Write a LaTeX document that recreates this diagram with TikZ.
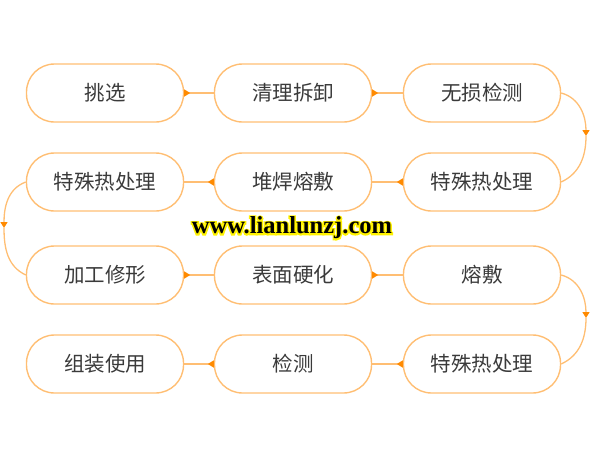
\documentclass[tikz,border=0pt]{standalone}
\usepackage{fontspec}
\setmainfont{Noto Sans CJK SC}
\newfontfamily\wmfont{Liberation Serif}
\newfontfamily\wmglow{Liberation Serif}[FakeBold=12]
\usetikzlibrary{arrows.meta}
\definecolor{boxline}{HTML}{FFBE73}
\definecolor{tipcol}{HTML}{FF8A00}
\definecolor{txt}{HTML}{3A3A3A}
\begin{document}
\begin{tikzpicture}[x=1pt,y=-1pt]
        \tikzstyle{every node}=[draw=boxline,line width=1.4pt,rounded corners=28pt,minimum width=157pt,minimum height=58pt,text=txt,font=\fontsize{20.5}{24}\selectfont,inner sep=0pt];
        \tikzstyle{link}=[boxline,line width=1.3pt];
        \tikzstyle{tip}=[-{Triangle[length=6pt,width=7pt,color=tipcol]}];
        \useasboundingbox (0,0) rectangle (600,450);
        % row 1
        \node (pick) at (105,93) {挑选};
        \node (clean) at (293,93) {清理拆卸};
        \node (ndt) at (482,93) {无损检测};
        % row 2
        \node (heatb) at (105,182) {特殊热处理};
        \node (weld) at (293,182) {堆焊熔敷};
        \node (heata) at (482,182) {特殊热处理};
        % row 3
        \node (shape) at (105,275) {加工修形};
        \node (hard) at (293,275) {表面硬化};
        \node (clad) at (482,275) {熔敷};
        % row 4
        \node (use) at (105,364) {组装使用};
        \node (check) at (293,364) {检测};
        \node (heatc) at (482,364) {特殊热处理};
        \coordinate (ra) at (586,136);
        \coordinate (la) at (4,228);
        \coordinate (rb) at (586,318);
        \draw[link,{Triangle[reversed,length=6pt,width=7pt,color=tipcol]}-] (pick)--(clean);
        \draw[link,{Triangle[reversed,length=6pt,width=7pt,color=tipcol]}-] (clean)--(ndt);
        \draw[link,{Triangle[reversed,length=6pt,width=7pt,color=tipcol]}-] (heata)--(weld);
        \draw[link,{Triangle[reversed,length=6pt,width=7pt,color=tipcol]}-] (weld)--(heatb);
        \draw[link,{Triangle[reversed,length=6pt,width=7pt,color=tipcol]}-] (shape)--(hard);
        \draw[link,{Triangle[reversed,length=6pt,width=7pt,color=tipcol]}-] (hard)--(clad);
        \draw[link,{Triangle[reversed,length=6pt,width=7pt,color=tipcol]}-] (heatc)--(check);
        \draw[link,{Triangle[reversed,length=6pt,width=7pt,color=tipcol]}-] (check)--(use);
        % bends
        \draw[link,tip] (ndt.east) to[out=-15,in=90] (ra);
        \draw[link] (ra) to[out=-90,in=25] (heata.east);
        \draw[link,tip] (heatb.west) to[out=200,in=90] (la);
        \draw[link] (la) to[out=-90,in=155] (shape.west);
        \draw[link,tip] (clad.east) to[out=-15,in=90] (rb);
        \draw[link] (rb) to[out=-90,in=25] (heatc.east);
        % watermark
        \node[draw=none,minimum width=0pt,minimum height=0pt,text=yellow,font=\wmglow\bfseries\fontsize{24.5}{28}\selectfont] (glow) at (292,228) {www.lianlunzj.com};
        \node[draw=none,minimum width=0pt,minimum height=0pt,text=black,font=\wmfont\bfseries\fontsize{24.5}{28}\selectfont] (wm) at (glow) {www.lianlunzj.com};
\end{tikzpicture}
\end{document}
